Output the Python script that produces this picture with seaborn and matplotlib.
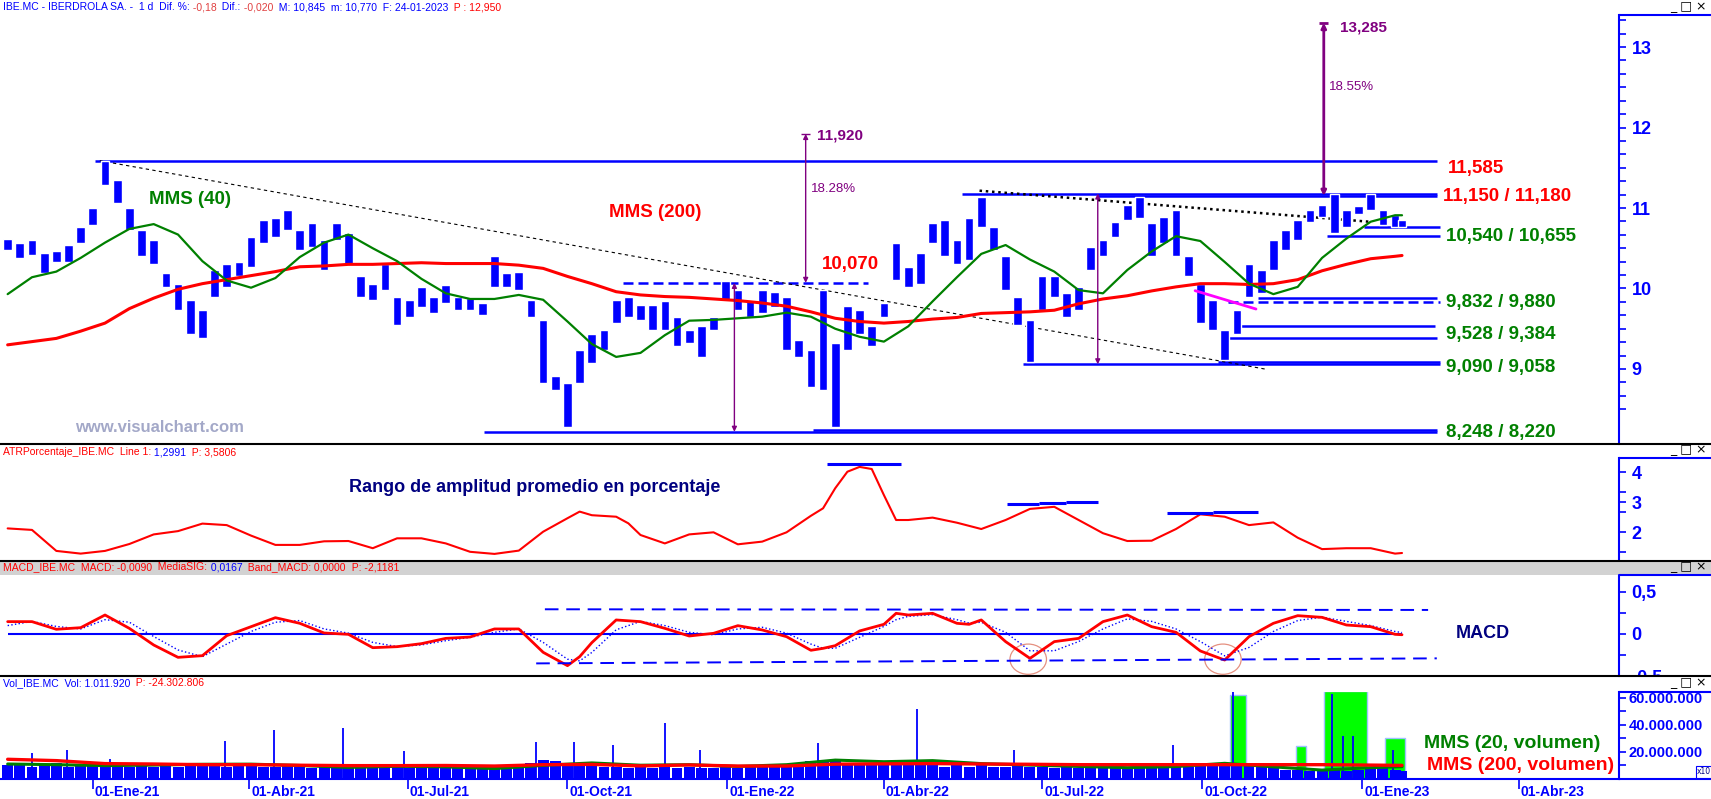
import numpy as np
import pandas as pd
import matplotlib
matplotlib.use("Agg")
import matplotlib.pyplot as plt
import matplotlib.dates as mdates
import matplotlib.transforms as mtrans
import seaborn as sns
from matplotlib.lines import Line2D
from matplotlib.patches import Rectangle, Ellipse

# weekly bars: Fridays from 13-Nov-2020, last bar 24-Jan-2023
price_hi = [10.62, 10.56, 10.60, 10.44, 10.46, 10.54, 10.77, 11.00, 11.58, 11.35,
            11.00, 10.73, 10.60, 10.19, 10.06, 9.86, 9.73, 10.23, 10.31, 10.33,
            10.64, 10.85, 10.87, 10.98, 10.73, 10.81, 10.60, 10.81, 10.69, 10.15,
            10.06, 10.31, 9.90, 9.86, 10.02, 9.90, 10.04, 9.90, 9.88, 9.82,
            10.40, 10.19, 10.21, 9.86, 9.61, 8.91, 8.82, 9.24, 9.44, 9.49,
            9.86, 9.90, 9.80, 9.80, 9.84, 9.65, 9.49, 9.53, 9.65, 10.09,
            9.98, 9.86, 9.98, 9.96, 9.90, 9.36, 9.24, 9.98, 9.32, 9.78,
            9.73, 9.53, 9.82, 10.56, 10.27, 10.44, 10.81, 10.85, 10.60, 10.87,
            11.14, 10.77, 10.40, 9.90, 9.61, 10.15, 10.15, 9.94, 10.02, 10.52,
            10.60, 10.83, 11.04, 11.14, 10.81, 10.89, 10.98, 10.40, 10.06, 9.86,
            9.49, 9.73, 10.31, 10.23, 10.60, 10.73, 10.85, 10.98, 11.04, 11.18,
            10.98, 11.02, 11.18, 10.98, 10.91, 10.845]
price_lo = [10.48, 10.38, 10.42, 10.19, 10.33, 10.33, 10.56, 10.79, 11.29, 11.06,
            10.73, 10.40, 10.31, 10.02, 9.73, 9.44, 9.38, 9.90, 10.02, 10.15,
            10.27, 10.56, 10.64, 10.73, 10.48, 10.52, 10.23, 10.60, 10.31, 9.90,
            9.86, 9.98, 9.55, 9.65, 9.77, 9.69, 9.82, 9.73, 9.73, 9.67,
            10.02, 10.02, 9.98, 9.65, 8.82, 8.74, 8.28, 8.82, 9.07, 9.24,
            9.57, 9.65, 9.61, 9.49, 9.49, 9.28, 9.32, 9.15, 9.49, 9.86,
            9.73, 9.65, 9.69, 9.77, 9.24, 9.15, 8.78, 8.74, 8.28, 9.24,
            9.44, 9.28, 9.65, 10.11, 10.02, 10.06, 10.56, 10.40, 10.31, 10.35,
            10.77, 10.48, 9.98, 9.55, 9.09, 9.73, 9.90, 9.65, 9.73, 10.23,
            10.40, 10.64, 10.85, 10.87, 10.40, 10.56, 10.40, 10.15, 9.57, 9.49,
            9.11, 9.44, 9.90, 9.94, 10.23, 10.48, 10.60, 10.83, 10.89, 10.69,
            10.77, 10.93, 10.98, 10.79, 10.77, 10.77]

# moving averages on price, every second week (+ last bar)
ma_k = list(range(0, 115, 2)) + [115]
mms40 = [9.93, 10.14, 10.21, 10.38, 10.57, 10.74, 10.80, 10.67, 10.34, 10.10,
         10.01, 10.13, 10.39, 10.57, 10.67, 10.50, 10.34, 10.12, 9.94, 9.87,
         9.87, 9.92, 9.86, 9.59, 9.31, 9.15, 9.20, 9.42, 9.60, 9.61,
         9.63, 9.65, 9.70, 9.65, 9.50, 9.40, 9.34, 9.53, 9.84, 10.14,
         10.43, 10.54, 10.36, 10.21, 9.98, 9.94, 10.23, 10.46, 10.65, 10.59,
         10.33, 10.06, 9.93, 10.02, 10.38, 10.62, 10.83, 10.91, 10.91]
mms200 = [9.30, 9.34, 9.38, 9.47, 9.57, 9.75, 9.88, 9.99, 10.06, 10.11,
          10.16, 10.21, 10.27, 10.28, 10.30, 10.30, 10.31, 10.32, 10.31, 10.31,
          10.31, 10.29, 10.25, 10.15, 10.06, 9.96, 9.92, 9.90, 9.89, 9.87,
          9.85, 9.82, 9.78, 9.71, 9.63, 9.59, 9.57, 9.59, 9.62, 9.64,
          9.69, 9.70, 9.71, 9.73, 9.81, 9.87, 9.91, 9.97, 10.02, 10.06,
          10.06, 10.05, 10.06, 10.11, 10.22, 10.30, 10.37, 10.40, 10.41]

# ATR %
atr_k = [0, 2, 4, 6, 8, 10, 12, 14, 16, 18, 20, 22, 24, 26, 28, 30, 32, 34, 36, 38,
         40, 42, 44, 46, 47, 48, 50, 51, 52, 54, 56, 58, 60, 62, 64, 66, 67, 68, 69, 70,
         71, 72, 73, 74, 76, 78, 80, 82, 84, 86, 88, 90, 92, 94, 96, 98, 100, 102, 104, 106,
         108, 110, 112, 114, 115]
atr_val = [2.12, 2.07, 1.37, 1.28, 1.37, 1.60, 1.92, 2.03, 2.28, 2.23, 1.88, 1.57, 1.57, 1.69, 1.70,
           1.46, 1.79, 1.79, 1.62, 1.34, 1.27, 1.38, 2.01, 2.46, 2.68, 2.56, 2.51, 2.29, 1.90, 1.62,
           1.92, 1.99, 1.59, 1.68, 1.99, 2.54, 2.79, 3.46, 4.01, 4.17, 4.10, 3.23, 2.40, 2.40, 2.48,
           2.31, 2.10, 2.40, 2.77, 2.84, 2.40, 1.96, 1.70, 1.71, 2.10, 2.59, 2.51, 2.23, 2.32, 1.81,
           1.43, 1.46, 1.46, 1.28, 1.30]

# MACD and signal
macd_k = [0, 2, 4, 6, 8, 10, 12, 14, 16, 18, 20, 22, 24, 26, 28, 30, 32, 34, 36, 38,
          40, 42, 44, 46, 47, 48, 50, 52, 54, 56, 58, 60, 62, 64, 66, 67, 68, 70, 72, 73,
          74, 76, 78, 79, 80, 82, 84, 86, 88, 90, 92, 94, 96, 98, 100, 102, 104, 106, 108, 110,
          112, 114, 115]
macd_val = [0.147, 0.147, 0.056, 0.075, 0.226, 0.067, -0.131, -0.278, -0.258, -0.020,
            0.087, 0.194, 0.127, 0.012, -0.004, -0.163, -0.151, -0.115, -0.052, -0.036,
            0.060, 0.060, -0.218, -0.377, -0.270, -0.103, 0.167, 0.147, 0.067, -0.024,
            0.008, 0.099, 0.048, -0.032, -0.194, -0.171, -0.139, 0.036, 0.115, 0.246,
            0.226, 0.246, 0.127, 0.115, 0.167, -0.091, -0.290, -0.091, -0.052, 0.147,
            0.226, 0.087, 0.020, -0.202, -0.310, -0.032, 0.127, 0.218, 0.198, 0.107,
            0.087, -0.004, -0.009]
macd_sig = [0.10, 0.15, 0.09, 0.06, 0.17, 0.14, -0.03, -0.19, -0.27, -0.12,
            0.03, 0.14, 0.16, 0.06, 0.01, -0.10, -0.15, -0.13, -0.08, -0.04,
            0.02, 0.06, -0.10, -0.30, -0.32, -0.22, 0.05, 0.15, 0.10, 0.02,
            -0.01, 0.06, 0.08, 0.01, -0.12, -0.17, -0.17, -0.04, 0.09, 0.17,
            0.21, 0.23, 0.17, 0.13, 0.14, 0.02, -0.20, -0.20, -0.09, 0.06,
            0.18, 0.15, 0.06, -0.09, -0.26, -0.16, 0.03, 0.16, 0.20, 0.15,
            0.10, 0.03, 0.017]

# volume (millions): typical weekly bar height, spikes, highlighted blocks, averages
vol = [10, 11, 9, 10, 12, 9, 10, 11, 12, 10, 9, 10, 9, 11, 9, 10, 11, 10, 9, 10,
       10, 9, 9, 10, 9, 8, 9, 8, 9, 8, 9, 8, 9, 8, 9, 9, 8, 8, 9, 8,
       9, 10, 9, 12, 14, 13, 12, 11, 10, 9, 9, 8, 9, 8, 9, 8, 9, 8, 8, 9,
       8, 9, 9, 9, 10, 12, 13, 14, 13, 12, 11, 11, 10, 10, 10, 11, 10, 9, 10, 9,
       10, 9, 9, 10, 9, 9, 8, 9, 8, 9, 8, 8, 9, 8, 9, 9, 10, 9, 10, 11,
       12, 11, 10, 9, 8, 7, 7, 6, 6, 7, 6, 7, 8, 8, 7, 6]
spike_dates = ["2020-11-27", "2020-12-17", "2021-01-11", "2021-03-18", "2021-04-15", "2021-05-25",
               "2021-06-29", "2021-09-13", "2021-10-05", "2021-10-27", "2021-11-26", "2021-12-16",
               "2022-02-22", "2022-04-20", "2022-06-15", "2022-09-14", "2022-10-19", "2022-12-15",
               "2022-12-21", "2022-12-27", "2023-01-19"]
spike_vals = [19.3, 21.8, 15.0, 28.4, 36.1, 37.8, 20.5, 27.2, 27.2, 25.5, 41.5, 21.7,
              26.5, 51.9, 21.7, 24.9, 64.9, 63.0, 31.6, 32.1, 21.7]
green_start = ["2022-10-17", "2022-11-24", "2022-12-10", "2023-01-14"]
green_end = ["2022-10-26", "2022-11-30", "2023-01-04", "2023-01-26"]
green_top = [62.5, 24.2, 64.9, 30.0]
vma_k = list(range(0, 113, 4)) + [115]
vol_mms20 = [11.1, 10.6, 9.9, 10.3, 10.9, 11.0, 10.0, 8.6, 9.4, 9.0, 7.7, 10.1, 11.9, 10.2, 10.6,
             9.3, 10.6, 14.0, 12.8, 13.6, 11.4, 10.3, 9.3, 8.4, 9.2, 11.6, 9.0, 6.6, 8.4, 9.1]
vol_mms200 = [14.6, 13.6, 11.4, 11.1, 10.6, 10.6, 10.2, 9.9, 9.9, 10.0, 9.6, 10.6, 10.8, 9.7, 10.4,
              9.6, 9.6, 11.0, 11.2, 11.4, 11.1, 10.9, 10.6, 10.6, 10.6, 10.6, 10.6, 10.6, 10.3, 10.1]

# drawn levels: value, from, to, dashed
levels = [(11.585, "2021-01-02", "2023-02-13", False), (11.18, "2022-05-16", "2023-02-13", False),
          (11.15, "2022-08-02", "2023-02-13", False), (10.76, "2023-01-02", "2023-02-15", False),
          (10.655, "2022-12-12", "2023-02-15", False), (9.88, "2022-11-02", "2023-02-13", False),
          (9.832, "2022-10-16", "2023-02-15", True), (9.528, "2022-10-21", "2023-02-12", False),
          (9.384, "2022-10-14", "2023-02-13", False), (9.09, "2022-10-10", "2023-02-15", False),
          (9.058, "2022-06-20", "2023-02-15", False), (8.248, "2022-02-19", "2023-02-13", False),
          (8.22, "2021-08-14", "2023-02-13", False), (10.07, "2021-11-02", "2022-03-23", True)]
arrows = [("2022-01-05", 10.07, 8.22), ("2022-02-15", 10.07, 11.92),
          ("2022-08-02", 11.18, 9.058), ("2022-12-10", 11.15, 13.30)]

quarters = ["2021-01-01", "2021-04-01", "2021-07-01", "2021-10-01", "2022-01-01",
            "2022-04-01", "2022-07-01", "2022-10-01", "2023-01-01", "2023-04-01"]
quarter_labels = ["01-Ene-21", "01-Abr-21", "01-Jul-21", "01-Oct-21", "01-Ene-22",
                  "01-Abr-22", "01-Jul-22", "01-Oct-22", "01-Ene-23", "01-Abr-23"]

W, H = 1711, 799
BLUE, RED, GREEN, NAVY, PURPLE = "#0000ff", "#ff0000", "#008000", "#000080", "#800080"
T = pd.Timestamp

weeks = pd.DatetimeIndex(list(pd.date_range("2020-11-13", periods=115, freq="7D")) + [T("2023-01-24")])
x0 = T("2021-01-01") - pd.Timedelta(days=53.4)
x1 = T("2021-01-01") + pd.Timedelta(days=877.8)

sns.set_style("white")
plt.rcParams["font.family"] = ["Liberation Sans", "DejaVu Sans"]

fig = plt.figure(figsize=(W / 100, H / 100), dpi=100)


def panel(top, bottom):
    ax = fig.add_axes([0, 1 - bottom / H, 1619 / W, (bottom - top) / H])
    for s in ["left", "top", "bottom"]:
        ax.spines[s].set_visible(False)
    ax.spines["right"].set_color(BLUE)
    ax.spines["right"].set_linewidth(1.5)
    ax.yaxis.tick_right()
    ax.tick_params(axis="y", which="both", colors=BLUE, direction="out", length=5, width=1.2, pad=4)
    ax.tick_params(axis="x", bottom=False, labelbottom=False)
    ax.set_xlim(x0, x1)
    fig.add_artist(Line2D([1619 / W, 1], [1 - top / H] * 2, color=BLUE, lw=1.5))
    return ax


def ftext(x, y, s, **kw):
    kw.setdefault("va", "center")
    return fig.text(x / W, 1 - y / H, s, **kw)


def header(x, y, parts, size=7.5):
    r = fig.canvas.get_renderer()
    for s, c in parts:
        t = ftext(x, y, s, color=c, fontsize=size)
        x += t.get_window_extent(r).width


# panel separators and MACD title band
fig.add_artist(Rectangle((0, 1 - 575 / H), 1, 14 / H, color="#d2d2d2", lw=0))
for y in (444, 561, 676):
    fig.add_artist(Line2D([0, 1], [1 - y / H] * 2, color="black", lw=1.5))

# ---------------- price
ax_p = panel(15, 444)
hi, lo = np.array(price_hi), np.array(price_lo)
ax_p.vlines(weeks, lo, hi, color=BLUE, lw=1.2, zorder=3)
ax_p.bar(weeks, hi - lo, bottom=lo, width=5, color=BLUE, zorder=3)
sns.lineplot(x=weeks[ma_k], y=mms200, ax=ax_p, color=RED, lw=2.2, zorder=4)
sns.lineplot(x=weeks[ma_k], y=mms40, ax=ax_p, color=GREEN, lw=1.6, zorder=4)
for v, a, b, dashed in levels:
    ax_p.hlines(v, T(a), T(b), color=BLUE, lw=1.8, ls=(0, (4, 2)) if dashed else "-", zorder=2)
for d, a, b in arrows:
    lw = 2 if b > 13 else 1
    ax_p.annotate("", xy=(T(d), b), xytext=(T(d), a),
                  arrowprops=dict(arrowstyle="<|-|>", color=PURPLE, lw=lw, mutation_scale=7,
                                  shrinkA=0, shrinkB=0), zorder=5)
    if b > a:
        ax_p.hlines(b, T(d) - pd.Timedelta(days=2.5), T(d) + pd.Timedelta(days=2.5), color=PURPLE, lw=lw)
ax_p.plot([T("2021-01-05"), T("2022-11-07")], [11.588, 8.996], color="black", lw=0.8, ls=(0, (3, 3)))
ax_p.plot([T("2022-05-26"), T("2023-01-05")], [11.215, 10.83], color="black", lw=1.8, ls=(0, (1, 1.5)))
ax_p.plot([T("2022-09-27"), T("2022-11-01")], [9.973, 9.745], color="#ff00ff", lw=2, zorder=5)
ax_p.set_ylim(8.068, 13.398)
ax_p.set_yticks([9, 10, 11, 12, 13], labels=["9", "10", "11", "12", "13"], fontweight="bold", fontsize=13)
ax_p.set_yticks(np.arange(8.5, 13.4, 1 / 6), minor=True)
ax_p.set_xlabel("")
ax_p.set_ylabel("")

# ---------------- ATR
ax_a = panel(458, 560)
sns.lineplot(x=weeks[atr_k], y=atr_val, ax=ax_a, color=RED, lw=1.5)
for a, b, v in [("2022-02-27", "2022-04-11", 4.28), ("2022-06-11", "2022-06-29", 2.93),
                ("2022-06-29", "2022-07-15", 2.97), ("2022-07-15", "2022-08-02", 3.01),
                ("2022-09-11", "2022-10-07", 2.63), ("2022-10-07", "2022-11-02", 2.68)]:
    ax_a.hlines(v, T(a), T(b), color=BLUE, lw=2.2)
ax_a.set_ylim(1.067, 4.467)
ax_a.set_yticks([2, 3, 4], labels=["2", "3", "4"], fontweight="bold", fontsize=13)
ax_a.set_yticks([1.333, 2.667, 3.333], minor=True)
ax_a.set_xlabel("")
ax_a.set_ylabel("")

# ---------------- MACD
ax_m = panel(575, 676)
ax_m.hlines(0, weeks[0], weeks[-1], color=BLUE, lw=1.5)
sns.lineplot(x=weeks[macd_k], y=macd_sig, ax=ax_m, color=BLUE, lw=1, ls=":")
sns.lineplot(x=weeks[macd_k], y=macd_val, ax=ax_m, color=RED, lw=2)
ax_m.plot([T("2021-09-18"), T("2023-02-08")], [0.294, 0.286], color=BLUE, lw=1.4, ls=(0, (7, 4)))
ax_m.plot([T("2021-09-13"), T("2023-02-13")], [-0.35, -0.29], color=BLUE, lw=1.4, ls=(0, (7, 4)))
for c in ("2022-06-23", "2022-10-13"):
    ax_m.add_patch(Ellipse((mdates.date2num(T(c)), -0.30), 21, 0.36, fill=False, ec="#e59080", lw=0.9))
ax_m.set_ylim(-0.5, 0.702)
ax_m.set_yticks([-0.5, 0, 0.5], labels=["-0,5", "0", "0,5"], fontweight="bold", fontsize=13)
ax_m.set_yticks([-0.25, 0.25], minor=True)
ax_m.set_xlabel("")
ax_m.set_ylabel("")

# ---------------- volume
ax_v = panel(692, 779)
gs = pd.to_datetime(green_start)
gw = (pd.to_datetime(green_end) - gs).days
ax_v.bar(gs, np.array(green_top) * 1e6, width=gw, align="edge", color="#00ff00",
         edgecolor="#9ec0ff", lw=1, zorder=2)
ax_v.bar(weeks, np.array(vol) * 1e6, width=6.3, color=BLUE, lw=0, zorder=3)
ax_v.vlines(pd.to_datetime(spike_dates), 0, np.array(spike_vals) * 1e6, color=BLUE, lw=1.3, zorder=3)
sns.lineplot(x=weeks[vma_k], y=np.array(vol_mms20) * 1e6, ax=ax_v, color=GREEN, lw=2.2, zorder=4)
sns.lineplot(x=weeks[vma_k], y=np.array(vol_mms200) * 1e6, ax=ax_v, color=RED, lw=2.4, zorder=4)
ax_v.set_ylim(0, 64.4e6)
ax_v.set_yticks([2e7, 4e7, 6e7], labels=["20.000.000", "40.000.000", "60.000.000"],
                fontweight="bold", fontsize=10.5)
ax_v.set_yticks([1e7, 3e7, 5e7], minor=True)
ax_v.tick_params(axis="y", which="both", pad=2)
ax_v.spines["bottom"].set_visible(True)
ax_v.spines["bottom"].set_color(BLUE)
ax_v.spines["bottom"].set_linewidth(1.5)
qd = pd.to_datetime(quarters)
ax_v.set_xticks(qd)
ax_v.tick_params(axis="x", bottom=True, labelbottom=False, direction="out", length=7,
                 width=1.2, colors=BLUE)
date_tr = mtrans.blended_transform_factory(ax_v.transData, fig.transFigure)
for d, s in zip(qd, quarter_labels):
    ax_v.text(d + pd.Timedelta(days=1.2), 1 - 792 / H, s, transform=date_tr, ha="left", va="center",
              fontweight="bold", fontsize=10, color=BLUE, clip_on=False)
ax_v.set_xlim(x0, x1)
ax_v.set_xlabel("")
ax_v.set_ylabel("")
fig.add_artist(Line2D([1619 / W, 1], [1 - 779 / H] * 2, color=BLUE, lw=1.5))
# hide the lower half of the MACD "-0,5" label like the reference
fig.add_artist(Rectangle((1621 / W, 1 - 691 / H), 90 / W, 14 / H, color="white", lw=0, zorder=1.5))

# ---------------- texts
header(3, 7, [("IBE.MC - IBERDROLA SA. -  1 d  Dif. %:", BLUE), (" -0,18", "#e04040"),
              ("  Dif.:", BLUE), (" -0,020", "#e04040"),
              ("  M: 10,845  m: 10,770  F: 24-01-2023", BLUE), ("  P : 12,950", RED)])
header(3, 452, [("ATRPorcentaje_IBE.MC  Line 1:", RED), (" 1,2991", BLUE), ("  P: 3,5806", RED)])
header(3, 567, [("MACD_IBE.MC  MACD:", RED), (" -0,0090", RED), ("  MediaSIG:", RED),
                (" 0,0167", BLUE), ("  Band_MACD:", RED), (" 0,0000", RED), ("  P: -2,1181", RED)])
header(3, 683, [("Vol_IBE.MC  Vol: 1.011.920", BLUE), ("  P: -24.302.806", RED)])
for y in (6, 449, 566, 682):
    ftext(1670, y, "_ \u25a1 \u00d7", fontsize=9, color="black", family="DejaVu Sans", zorder=5)
ftext(1697, 772, "x10", fontsize=5.5, color=NAVY, family="DejaVu Sans",
      bbox=dict(boxstyle="square,pad=0.15", fc="white", ec=BLUE, lw=0.8))

bold = dict(fontweight="bold", fontsize=13.5)
ftext(149, 199, "MMS (40)", color=GREEN, **bold)
ftext(609, 212, "MMS (200)", color=RED, **bold)
ftext(822, 264, "10,070", color=RED, **bold)
ftext(1448, 168, "11,585", color=RED, **bold)
ftext(1443, 196, "11,150 / 11,180", color=RED, **bold)
for y, s in [(237, "10,540 / 10,655"), (303, "9,832 / 9,880"), (335, "9,528 / 9,384"),
             (368, "9,090 / 9,058"), (432, "8,248 / 8,220")]:
    ftext(1446, y, s, color=GREEN, **bold)
ftext(817, 135, "11,920", color=PURPLE, fontweight="bold", fontsize=11)
ftext(1340, 27, "13,285", color=PURPLE, fontweight="bold", fontsize=11)
ftext(811, 189, "18.28%", color=PURPLE, fontsize=9.5)
ftext(1329, 87, "18.55%", color=PURPLE, fontsize=9.5)
ftext(75, 428, "www.visualchart.com", color="#a3a8c8", fontweight="bold", fontsize=12)
ftext(349, 488, "Rango de amplitud promedio en porcentaje", color=NAVY, fontweight="bold", fontsize=13)
ftext(1456, 634, "MACD", color=NAVY, fontweight="bold", fontsize=13)
ftext(1424, 743, "MMS (20, volumen)", color=GREEN, fontweight="bold", fontsize=14)
ftext(1427, 766, "MMS (200, volumen)", color=RED, fontweight="bold", fontsize=14)

fig.savefig("out.png", dpi=100)
